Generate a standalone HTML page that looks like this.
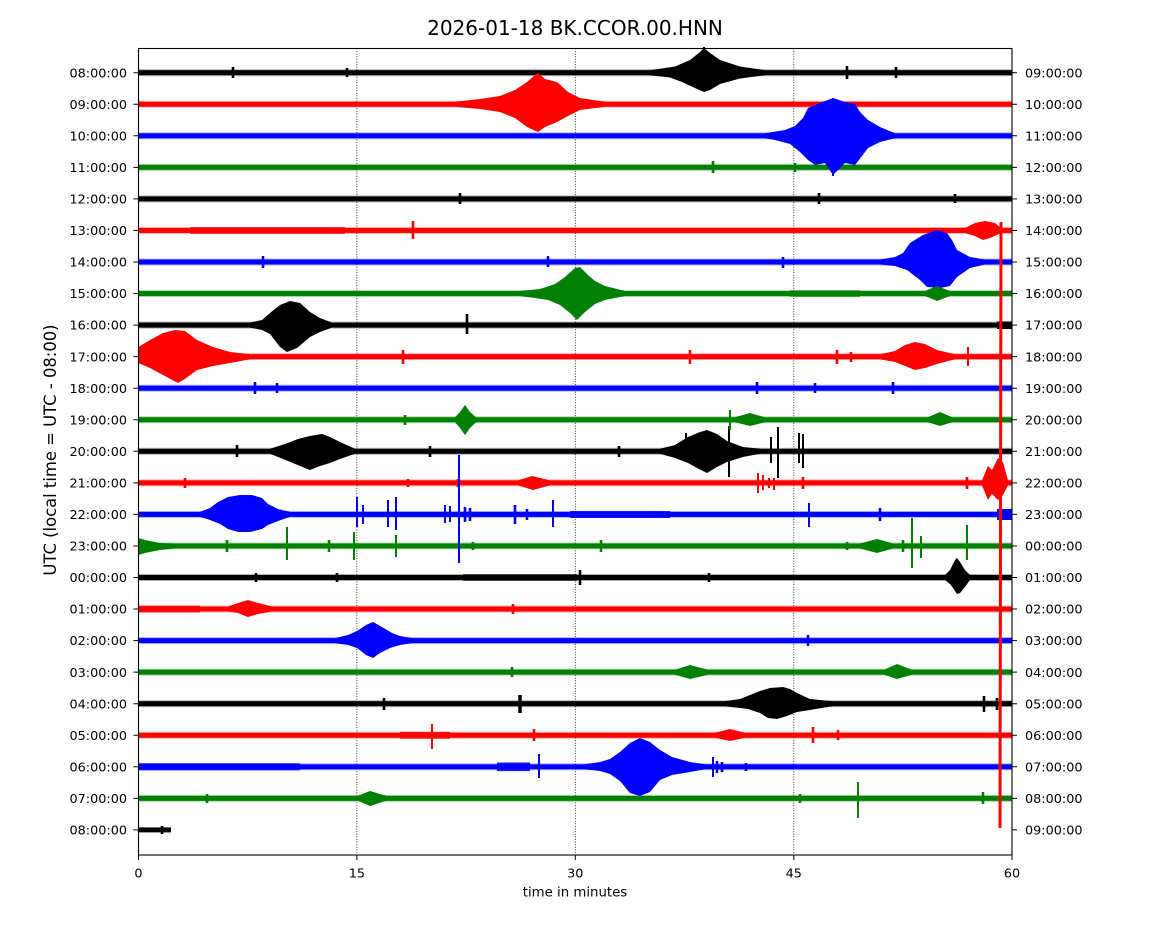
<!DOCTYPE html>
<html>
<head>
<meta charset="utf-8">
<style>
html,body{margin:0;padding:0;background:#fff;}
svg{display:block;}
text{font-family:"DejaVu Sans","Liberation Sans",sans-serif;fill:#000;}
</style>
</head>
<body>
<svg width="1150" height="950" viewBox="0 0 1150 950" xmlns="http://www.w3.org/2000/svg">
<rect x="0" y="0" width="1150" height="950" fill="#fff"/>

<!-- title -->
<text x="575" y="35" font-size="20" text-anchor="middle">2026-01-18 BK.CCOR.00.HNN</text>

<!-- grid -->
<g stroke="#000" stroke-width="0.8" stroke-dasharray="1,1.6" fill="none">
<path d="M356.9 48.5V855 M575.3 48.5V855 M793.8 48.5V855"/>
</g>

<!-- baselines -->
<g>
<g fill="#000">
<rect x="138.5" y="69.2" width="873.5" height="7" opacity="0.3"/><rect x="138.5" y="70.2" width="873.5" height="5"/>
<rect x="138.5" y="195.4" width="873.5" height="7" opacity="0.3"/><rect x="138.5" y="196.4" width="873.5" height="5"/>
<rect x="138.5" y="321.6" width="873.5" height="7" opacity="0.3"/><rect x="138.5" y="322.6" width="873.5" height="5"/>
<rect x="138.5" y="447.8" width="873.5" height="7" opacity="0.3"/><rect x="138.5" y="448.8" width="873.5" height="5"/>
<rect x="138.5" y="574" width="873.5" height="7" opacity="0.3"/><rect x="138.5" y="575" width="873.5" height="5"/>
<rect x="138.5" y="700.2" width="873.5" height="7" opacity="0.3"/><rect x="138.5" y="701.2" width="873.5" height="5"/>
<rect x="138.5" y="827.4" width="32.5" height="5"/>
</g>
<g fill="#ff0000">
<rect x="138.5" y="100.75" width="873.5" height="7" opacity="0.3"/><rect x="138.5" y="101.75" width="873.5" height="5"/>
<rect x="138.5" y="226.95" width="873.5" height="7" opacity="0.3"/><rect x="138.5" y="227.95" width="873.5" height="5"/>
<rect x="138.5" y="353.15" width="873.5" height="7" opacity="0.3"/><rect x="138.5" y="354.15" width="873.5" height="5"/>
<rect x="138.5" y="479.35" width="873.5" height="7" opacity="0.3"/><rect x="138.5" y="480.35" width="873.5" height="5"/>
<rect x="138.5" y="605.55" width="873.5" height="7" opacity="0.3"/><rect x="138.5" y="606.55" width="873.5" height="5"/>
<rect x="138.5" y="731.75" width="873.5" height="7" opacity="0.3"/><rect x="138.5" y="732.75" width="873.5" height="5"/>
</g>
<g fill="#0000ff">
<rect x="138.5" y="132.3" width="873.5" height="7" opacity="0.3"/><rect x="138.5" y="133.3" width="873.5" height="5"/>
<rect x="138.5" y="258.5" width="873.5" height="7" opacity="0.3"/><rect x="138.5" y="259.5" width="873.5" height="5"/>
<rect x="138.5" y="384.7" width="873.5" height="7" opacity="0.3"/><rect x="138.5" y="385.7" width="873.5" height="5"/>
<rect x="138.5" y="510.9" width="873.5" height="7" opacity="0.3"/><rect x="138.5" y="511.9" width="873.5" height="5"/>
<rect x="138.5" y="637.1" width="873.5" height="7" opacity="0.3"/><rect x="138.5" y="638.1" width="873.5" height="5"/>
<rect x="138.5" y="763.3" width="873.5" height="7" opacity="0.3"/><rect x="138.5" y="764.3" width="873.5" height="5"/>
</g>
<g fill="#008000">
<rect x="138.5" y="163.85" width="873.5" height="7" opacity="0.3"/><rect x="138.5" y="164.85" width="873.5" height="5"/>
<rect x="138.5" y="290.05" width="873.5" height="7" opacity="0.3"/><rect x="138.5" y="291.05" width="873.5" height="5"/>
<rect x="138.5" y="416.25" width="873.5" height="7" opacity="0.3"/><rect x="138.5" y="417.25" width="873.5" height="5"/>
<rect x="138.5" y="542.45" width="873.5" height="7" opacity="0.3"/><rect x="138.5" y="543.45" width="873.5" height="5"/>
<rect x="138.5" y="668.65" width="873.5" height="7" opacity="0.3"/><rect x="138.5" y="669.65" width="873.5" height="5"/>
<rect x="138.5" y="794.85" width="873.5" height="7" opacity="0.3"/><rect x="138.5" y="795.85" width="873.5" height="5"/>
</g>
</g>

<!-- BLACK events -->
<g fill="#000">
<path d="M650 70.2 L675 66.5 L690 60 L700 52 L704 48 L710 53 L720 60 L740 66.5 L765 70.2 L765 75.2 L740 78.5 L720 84 L710 90 L704 92 L695 88 L682 82 L670 77.5 L650 75.2Z"/>
<path d="M250 322.6 L262 320 L270 313 L280 305 L290 301 L300 303 L310 312 L320 318 L332 322.6 L332 327.6 L320 332 L310 337 L297 348 L287 352 L280 347 L270 334 L262 330 L250 327.6Z"/>
<rect x="997" y="321.5" width="15" height="7.5"/>
<path d="M270 448.8 L285 444 L298 439 L310 436 L322 434 L330 437 L340 442 L355 448.8 L355 453.8 L340 459 L330 463 L320 466 L310 470 L300 466 L288 461 L270 453.8Z"/>
<path d="M660 448.8 L675 445 L688 437 L700 432 L707 430 L717 434 L727 441 L743 447 L760 448.8 L760 453.8 L743 457 L727 462 L717 467 L707 473 L697 468 L688 463 L675 458 L660 453.8Z"/>
<rect x="463" y="574.3" width="114" height="6.4" opacity="0.9"/>
<path d="M945 575 L950 570 L955 560 L957 558 L960 562 L965 570 L970 575 L970 580 L965 587 L960 593 L957 594 L953 588 L950 584 L945 580Z"/>
<path d="M725 701.2 L740 699 L750 695 L760 691 L770 688 L783 687 L790 689 L797 693 L810 699 L832 701.2 L832 706.2 L810 710 L797 712 L787 716 L777 719 L768 718 L760 713 L748 709 L740 708 L725 706.2Z"/>
</g>
<g stroke="#000" stroke-width="2.6" fill="none">
<path d="M233 67V78 M347 68V77 M847 66V79 M896 67V78 M460 193V204 M819 193V204 M955 194V203 M467 314V334 M237 445V457 M430 446V457 M619 446V457 M256 573V582 M337 573V582 M580 570V585 M709 573V582 M384 698V710 M984 696V712 M997 698V710 M162 826V834"/>
<path d="M520 695V713" stroke-width="3.5"/>
</g>
<g stroke="#000" stroke-width="2" fill="none">
<path d="M704 47V72 M686 433V460 M729 426V477 M771 437V463 M778 427V478 M799 433V463 M803 434V468"/>
</g>

<!-- RED events -->
<g fill="#ff0000">
<path d="M455 101.75 L480 99 L500 96 L515 90 L527 82 L535 75 L538 73 L545 79 L557 82 L568 92 L580 98 L605 101.75 L605 106.75 L580 110 L568 116 L557 122 L545 127 L538 132 L527 127 L515 118 L500 112 L480 109 L455 106.75Z"/>
<rect x="190" y="227.2" width="155" height="6.6" opacity="0.9"/>
<path d="M965 228 L975 223 L985 221 L995 223 L1001 228 L1001 233 L990 238 L983 240 L975 236 L965 233Z"/>
<path d="M138.5 347 L150 340 L163 333 L175 330 L185 331 L197 340 L213 347 L230 352 L250 354.2 L250 359.2 L230 363 L213 366 L197 370 L185 379 L178 383 L163 375 L150 368 L138.5 363Z"/>
<path d="M880 354.2 L895 351 L905 345 L915 342 L925 344 L937 350 L955 354.2 L955 359.2 L937 364 L925 368 L915 370 L905 366 L895 362 L880 359.2Z"/>
<path d="M518 480.4 L532 476 L550 480.4 L550 485.4 L533 490 L518 485.4Z"/>
<path d="M982 480.4 L988 466 L992 470 L998 458 L1003 462 L1008 480.4 L1008 485.4 L1003 495 L998 500 L992 494 L988 500 L982 485.4Z"/>
<rect x="138.5" y="605.7" width="61.5" height="6.7" opacity="0.9"/>
<path d="M228 606.5 L238 603 L248 600 L258 603 L272 606.5 L272 611.5 L258 614 L248 617 L238 613 L228 611.5Z"/>
<rect x="400" y="731.8" width="50" height="6.9" opacity="0.9"/>
<path d="M715 732.7 L730 729 L745 732.7 L745 737.7 L730 741 L715 737.7Z"/>
</g>
<g stroke="#ff0000" stroke-width="2.6" fill="none">
<path d="M413 221V239 M403 350V364 M690 350V364 M837 350V364 M851 352V362 M185 478V488 M458 479V487 M408 479V487 M803 477V489 M967 477V489 M513 604V614 M534 729V741 M813 727V743 M838 730V740"/>
</g>
<g stroke="#ff0000" stroke-width="2" fill="none">
<path d="M968 347V366 M758 473V493 M763 475V490 M769 478V488 M774 478V490 M432 724V749"/>
</g>

<!-- BLUE events -->
<g fill="#0000ff">
<path d="M765 133.3 L785 130 L795 126 L803 118 L808 108 L820 103 L833 98 L845 102 L855 104 L860 112 L868 120 L880 127 L895 133.3 L895 138.3 L880 142 L868 148 L862 156 L855 165 L845 163 L833 175 L825 163 L815 165 L808 160 L800 152 L790 144 L775 140 L765 138.3Z"/>
<path d="M880 259.5 L895 257 L903 253 L910 243 L923 235 L937 230 L947 233 L952 240 L957 250 L970 257 L985 259.5 L985 264.5 L970 268 L957 277 L950 286 L940 288 L927 287 L920 280 L907 270 L895 266 L880 264.5Z"/>
<path d="M200 511.9 L210 508 L218 502 L228 497 L240 495 L252 495 L262 498 L268 504 L278 509 L290 511.9 L290 516.9 L278 521 L268 525 L262 529 L250 532 L238 532 L228 529 L220 524 L210 520 L200 516.9Z"/>
<rect x="570" y="511" width="100" height="7" opacity="0.9"/>
<rect x="997" y="509" width="15" height="11"/>
<path d="M335 638.1 L348 635 L357 631 L366 625 L373 622 L382 627 L392 633 L400 636 L412 638.1 L412 643.1 L400 645 L390 648 L380 653 L373 658 L366 655 L357 648 L348 645 L335 643.1Z"/>
<rect x="138.5" y="763.3" width="161.5" height="7" opacity="0.9"/>
<rect x="497" y="762.5" width="33" height="8.6" opacity="0.9"/>
<path d="M585 764.3 L600 762 L610 759 L620 752 L630 743 L640 738 L650 742 L660 750 L672 757 L690 762 L705 764.3 L705 769.3 L690 772 L672 775 L660 780 L650 792 L640 796 L630 793 L620 781 L610 774 L600 771 L585 769.3Z"/>
</g>
<g stroke="#0000ff" stroke-width="2.6" fill="none">
<path d="M263 256V268 M548 256V267 M783 257V268 M255 382V394 M277 383V393 M757 382V394 M815 383V393 M893 382V394 M465 507V522 M470 508V521 M515 505V524 M527 509V520 M880 508V521 M808 635V646 M717 761V773 M722 762V772 M746 763V771"/>
</g>
<g stroke="#0000ff" stroke-width="2" fill="none">
<path d="M833 98V176 M357 497V527 M363 505V524 M388 500V527 M396 497V530 M445 505V523 M450 506V522 M553 500V527 M809 503V527 M459 455V563 M539 754V778 M713 757V777"/>
</g>

<!-- GREEN events -->
<g fill="#008000">
<path d="M520 291 L540 289 L555 284 L565 277 L575 268 L580 267 L588 275 L595 281 L605 286 L625 291 L625 296 L605 300 L595 304 L585 312 L577 320 L570 313 L560 305 L548 300 L535 298 L520 296Z"/>
<rect x="790" y="290.5" width="70" height="6.2" opacity="0.9"/>
<path d="M925 291 L937 286 L950 291 L950 296 L937 301 L925 296Z"/>
<path d="M455 417.3 L460 412 L465 405 L470 412 L476 417.3 L476 422.3 L470 428 L465 435 L460 428 L455 422.3Z"/>
<path d="M735 417.3 L750 413 L765 417.3 L765 422.3 L750 426 L735 422.3Z"/>
<path d="M928 417.3 L940 412 L952 417.3 L952 422.3 L940 426 L928 422.3Z"/>
<path d="M138.5 538 L145 540 L160 543 L175 543.5 L175 548.5 L160 550 L145 553 L138.5 555Z"/>
<path d="M860 543.5 L877 539 L893 543.5 L893 548.5 L877 553 L860 548.5Z"/>
<path d="M675 669.7 L690 665 L708 669.7 L708 674.7 L690 679 L675 674.7Z"/>
<path d="M884 669.7 L897 664 L912 669.7 L912 674.7 L897 679 L884 674.7Z"/>
<path d="M358 795.8 L370 791 L386 795.8 L386 800.8 L370 806 L358 800.8Z"/>
</g>
<g stroke="#008000" stroke-width="2.6" fill="none">
<path d="M713 161V173 M795 163V172 M405 415V425 M227 540V552 M329 540V552 M473 542V550 M601 540V552 M847 542V550 M903 540V552 M512 667V677 M207 794V803 M983 792V804 M800 794V803"/>
</g>
<g stroke="#008000" stroke-width="2" fill="none">
<path d="M730 410V430 M287 527V560 M354 532V560 M396 535V557 M912 518V568 M921 536V558 M967 525V560 M858 782V818"/>
</g>

<!-- big red vertical -->
<path d="M1001 222 L1000 828" stroke="#ff0000" stroke-width="3" fill="none"/>

<!-- frame -->
<rect x="138.5" y="48.5" width="873.5" height="806.5" fill="none" stroke="#000" stroke-width="1.1"/>

<!-- ticks -->
<g stroke="#000" stroke-width="1" fill="none">
<path d="M133.5 72.7H138.5 M133.5 104.25H138.5 M133.5 135.8H138.5 M133.5 167.35H138.5 M133.5 198.9H138.5 M133.5 230.45H138.5 M133.5 262H138.5 M133.5 293.55H138.5 M133.5 325.1H138.5 M133.5 356.65H138.5 M133.5 388.2H138.5 M133.5 419.75H138.5 M133.5 451.3H138.5 M133.5 482.85H138.5 M133.5 514.4H138.5 M133.5 545.95H138.5 M133.5 577.5H138.5 M133.5 609.05H138.5 M133.5 640.6H138.5 M133.5 672.15H138.5 M133.5 703.7H138.5 M133.5 735.25H138.5 M133.5 766.8H138.5 M133.5 798.35H138.5 M133.5 829.9H138.5"/>
<path d="M1012 72.7H1017 M1012 104.25H1017 M1012 135.8H1017 M1012 167.35H1017 M1012 198.9H1017 M1012 230.45H1017 M1012 262H1017 M1012 293.55H1017 M1012 325.1H1017 M1012 356.65H1017 M1012 388.2H1017 M1012 419.75H1017 M1012 451.3H1017 M1012 482.85H1017 M1012 514.4H1017 M1012 545.95H1017 M1012 577.5H1017 M1012 609.05H1017 M1012 640.6H1017 M1012 672.15H1017 M1012 703.7H1017 M1012 735.25H1017 M1012 766.8H1017 M1012 798.35H1017 M1012 829.9H1017"/>
<path d="M138.5 855V860 M356.9 855V860 M575.3 855V860 M793.8 855V860 M1012 855V860"/>
</g>

<!-- left labels -->
<g font-size="12.8" text-anchor="end">
<text x="127" y="77.3">08:00:00</text>
<text x="127" y="108.85">09:00:00</text>
<text x="127" y="140.4">10:00:00</text>
<text x="127" y="171.95">11:00:00</text>
<text x="127" y="203.5">12:00:00</text>
<text x="127" y="235.05">13:00:00</text>
<text x="127" y="266.6">14:00:00</text>
<text x="127" y="298.15">15:00:00</text>
<text x="127" y="329.7">16:00:00</text>
<text x="127" y="361.25">17:00:00</text>
<text x="127" y="392.8">18:00:00</text>
<text x="127" y="424.35">19:00:00</text>
<text x="127" y="455.9">20:00:00</text>
<text x="127" y="487.45">21:00:00</text>
<text x="127" y="519">22:00:00</text>
<text x="127" y="550.55">23:00:00</text>
<text x="127" y="582.1">00:00:00</text>
<text x="127" y="613.65">01:00:00</text>
<text x="127" y="645.2">02:00:00</text>
<text x="127" y="676.75">03:00:00</text>
<text x="127" y="708.3">04:00:00</text>
<text x="127" y="739.85">05:00:00</text>
<text x="127" y="771.4">06:00:00</text>
<text x="127" y="802.95">07:00:00</text>
<text x="127" y="834.5">08:00:00</text>
</g>

<!-- right labels -->
<g font-size="12.8" text-anchor="start">
<text x="1025" y="77.3">09:00:00</text>
<text x="1025" y="108.85">10:00:00</text>
<text x="1025" y="140.4">11:00:00</text>
<text x="1025" y="171.95">12:00:00</text>
<text x="1025" y="203.5">13:00:00</text>
<text x="1025" y="235.05">14:00:00</text>
<text x="1025" y="266.6">15:00:00</text>
<text x="1025" y="298.15">16:00:00</text>
<text x="1025" y="329.7">17:00:00</text>
<text x="1025" y="361.25">18:00:00</text>
<text x="1025" y="392.8">19:00:00</text>
<text x="1025" y="424.35">20:00:00</text>
<text x="1025" y="455.9">21:00:00</text>
<text x="1025" y="487.45">22:00:00</text>
<text x="1025" y="519">23:00:00</text>
<text x="1025" y="550.55">00:00:00</text>
<text x="1025" y="582.1">01:00:00</text>
<text x="1025" y="613.65">02:00:00</text>
<text x="1025" y="645.2">03:00:00</text>
<text x="1025" y="676.75">04:00:00</text>
<text x="1025" y="708.3">05:00:00</text>
<text x="1025" y="739.85">06:00:00</text>
<text x="1025" y="771.4">07:00:00</text>
<text x="1025" y="802.95">08:00:00</text>
<text x="1025" y="834.5">09:00:00</text>
</g>

<!-- x tick labels -->
<g font-size="12.8" text-anchor="middle">
<text x="138.5" y="877.3">0</text>
<text x="356.9" y="877.3">15</text>
<text x="575.3" y="877.3">30</text>
<text x="793.8" y="877.3">45</text>
<text x="1012" y="877.3">60</text>
</g>

<text x="575" y="896.5" font-size="13.3" text-anchor="middle">time in minutes</text>
<text transform="translate(56,450) rotate(-90)" font-size="16.4" text-anchor="middle">UTC (local time = UTC - 08:00)</text>
</svg>
</body>
</html>
